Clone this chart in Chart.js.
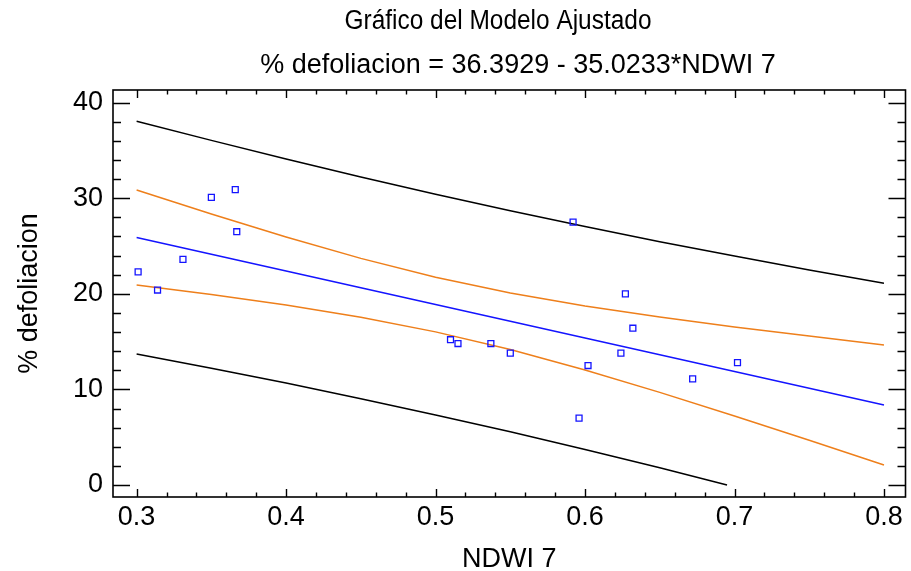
<!DOCTYPE html>
<html>
<head>
<meta charset="utf-8">
<script src="https://cdn.jsdelivr.net/npm/chart.js@4.4.0/dist/chart.umd.min.js"></script>
<style>
  html, body { margin: 0; padding: 0; background: #fff; }
</style>
</head>
<body>
<canvas id="myChart" width="911" height="571"></canvas>
<script>
// observed points
const ndwi = [0.301, 0.314, 0.331, 0.350, 0.366, 0.367, 0.510, 0.515, 0.537, 0.550, 0.592, 0.596, 0.602, 0.624, 0.627, 0.632, 0.672, 0.702];
const defol = [22.3, 20.4, 23.6, 30.1, 30.9, 26.5, 15.2, 14.8, 14.8, 13.8, 27.5, 7.0, 12.5, 13.8, 20.0, 16.4, 11.1, 12.8];

// fitted line and limits
const lineX = [0.30, 0.35, 0.40, 0.45, 0.50, 0.55, 0.60, 0.65, 0.70, 0.75, 0.80];
const fitted = [25.89, 24.14, 22.38, 20.63, 18.88, 17.13, 15.38, 13.63, 11.88, 10.13, 8.37];
const upperConf = [30.86, 28.35, 25.94, 23.71, 21.74, 20.09, 18.73, 17.57, 16.54, 15.59, 14.65];
const lowerConf = [20.92, 19.93, 18.82, 17.55, 16.02, 14.17, 12.03, 9.69, 7.22, 4.67, 2.09];
const upperPred = [38.07, 36.06, 34.10, 32.23, 30.43, 28.70, 27.05, 25.46, 23.95, 22.50, 21.10];
const lowerPredX = [0.30, 0.35, 0.40, 0.45, 0.50, 0.55, 0.60, 0.65, 0.695];
const lowerPred = [13.71, 12.22, 10.66, 9.03, 7.33, 5.56, 3.71, 1.80, 0.0];

// axes
const xTicks = [0.3, 0.4, 0.5, 0.6, 0.7, 0.8];
const xTickLabels = ["0.3", "0.4", "0.5", "0.6", "0.7", "0.8"];
const yTicks = [0, 10, 20, 30, 40];
const yTickLabels = ["0", "10", "20", "30", "40"];

const titleText = "Gráfico del Modelo Ajustado";
const subtitleText = "% defoliacion = 36.3929 - 35.0233*NDWI 7";

const FONT = "'Liberation Sans', Arial, sans-serif";
const ORANGE = "#ee7f1b";
const BLUE = "#1414ff";

function pairs(xs, ys) {
  return xs.map((x, i) => ({ x: x, y: ys[i] }));
}

function lineSet(xs, ys, color) {
  return {
    type: "line",
    data: pairs(xs, ys),
    borderColor: color,
    borderWidth: 1.5,
    pointRadius: 0,
    fill: false,
    tension: 0,
    order: 2,
  };
}

// frame, inward ticks and the two title lines
const framePlugin = {
  id: "frame",
  afterDraw(chart) {
    const ctx = chart.ctx;
    const a = chart.chartArea;
    const xs = chart.scales.x;
    const ys = chart.scales.y;
    ctx.save();
    ctx.strokeStyle = "#000";
    ctx.lineWidth = 1.6;
    ctx.strokeRect(a.left, a.top, a.right - a.left, a.bottom - a.top);
    ctx.lineWidth = 1.4;
    ctx.beginPath();
    for (let v = 0.3; v <= 0.8001; v += 0.02) {
      const px = Math.round(xs.getPixelForValue(v)) + 0.5;
      const major = Math.abs(v * 10 - Math.round(v * 10)) < 0.001;
      const len = major ? 8 : 4.5;
      ctx.moveTo(px, a.bottom);
      ctx.lineTo(px, a.bottom - len);
      ctx.moveTo(px, a.top);
      ctx.lineTo(px, a.top + len);
    }
    for (let v = 0; v <= 40; v += 2) {
      const py = Math.round(ys.getPixelForValue(v)) + 0.5;
      const len = v % 10 === 0 ? 17 : 8;
      ctx.moveTo(a.left, py);
      ctx.lineTo(a.left + len, py);
      ctx.moveTo(a.right, py);
      ctx.lineTo(a.right - len, py);
    }
    ctx.stroke();

    ctx.fillStyle = "#000";
    ctx.textAlign = "center";
    ctx.textBaseline = "middle";
    ctx.font = "27px " + FONT;
    ctx.save();
    ctx.translate(498, 22);
    ctx.scale(0.905, 1);
    ctx.fillText(titleText, 0, 0);
    ctx.restore();
    ctx.fillText(subtitleText, 518, 66);
    ctx.restore();
  },
};

const ctx = document.getElementById("myChart").getContext("2d");
const myChart = new Chart(ctx, {
  type: "scatter",
  data: {
    datasets: [
      {
        type: "scatter",
        data: pairs(ndwi, defol),
        pointStyle: "rect",
        pointRadius: 4.2,
        pointBorderWidth: 1.3,
        pointBorderColor: BLUE,
        pointBackgroundColor: "rgba(0,0,0,0)",
        order: 1,
      },
      lineSet(lineX, upperPred, "#000"),
      lineSet(lowerPredX, lowerPred, "#000"),
      lineSet(lineX, upperConf, ORANGE),
      lineSet(lineX, lowerConf, ORANGE),
      lineSet(lineX, fitted, BLUE),
    ],
  },
  options: {
    responsive: false,
    animation: false,
    events: [],
    layout: { padding: { top: 90, right: 3, left: 0, bottom: 0 } },
    plugins: {
      legend: { display: false },
      title: { display: false },
      tooltip: { enabled: false },
    },
    scales: {
      x: {
        type: "linear",
        min: 0.2842,
        max: 0.8144,
        afterBuildTicks: (s) => { s.ticks = xTicks.map((v) => ({ value: v })); },
        afterFit: (s) => { s.height = 74; },
        grid: { display: false, drawTicks: false },
        border: { display: false },
        ticks: {
          color: "#000",
          font: { family: FONT, size: 27, lineHeight: 1.2 },
          padding: 4.3,
          maxRotation: 0,
          autoSkip: false,
          callback: (v, i) => xTickLabels[i],
        },
        title: {
          display: true,
          text: "NDWI 7",
          color: "#000",
          font: { family: FONT, size: 27, lineHeight: 1 },
          padding: { top: 0, bottom: -2 },
        },
      },
      y: {
        type: "linear",
        min: -1.26,
        max: 41.33,
        afterBuildTicks: (s) => { s.ticks = yTicks.map((v) => ({ value: v })); },
        afterFit: (s) => { s.width = 113; },
        grid: { display: false, drawTicks: false },
        border: { display: false },
        ticks: {
          color: "#000",
          font: { family: FONT, size: 27 },
          padding: 10,
          autoSkip: false,
          callback: (v, i) => yTickLabels[i],
        },
        title: {
          display: true,
          text: "% defoliacion",
          color: "#000",
          font: { family: FONT, size: 27, lineHeight: 1 },
          padding: { top: 16.5, bottom: 0 },
        },
      },
    },
  },
  plugins: [framePlugin],
});
</script>
</body>
</html>
